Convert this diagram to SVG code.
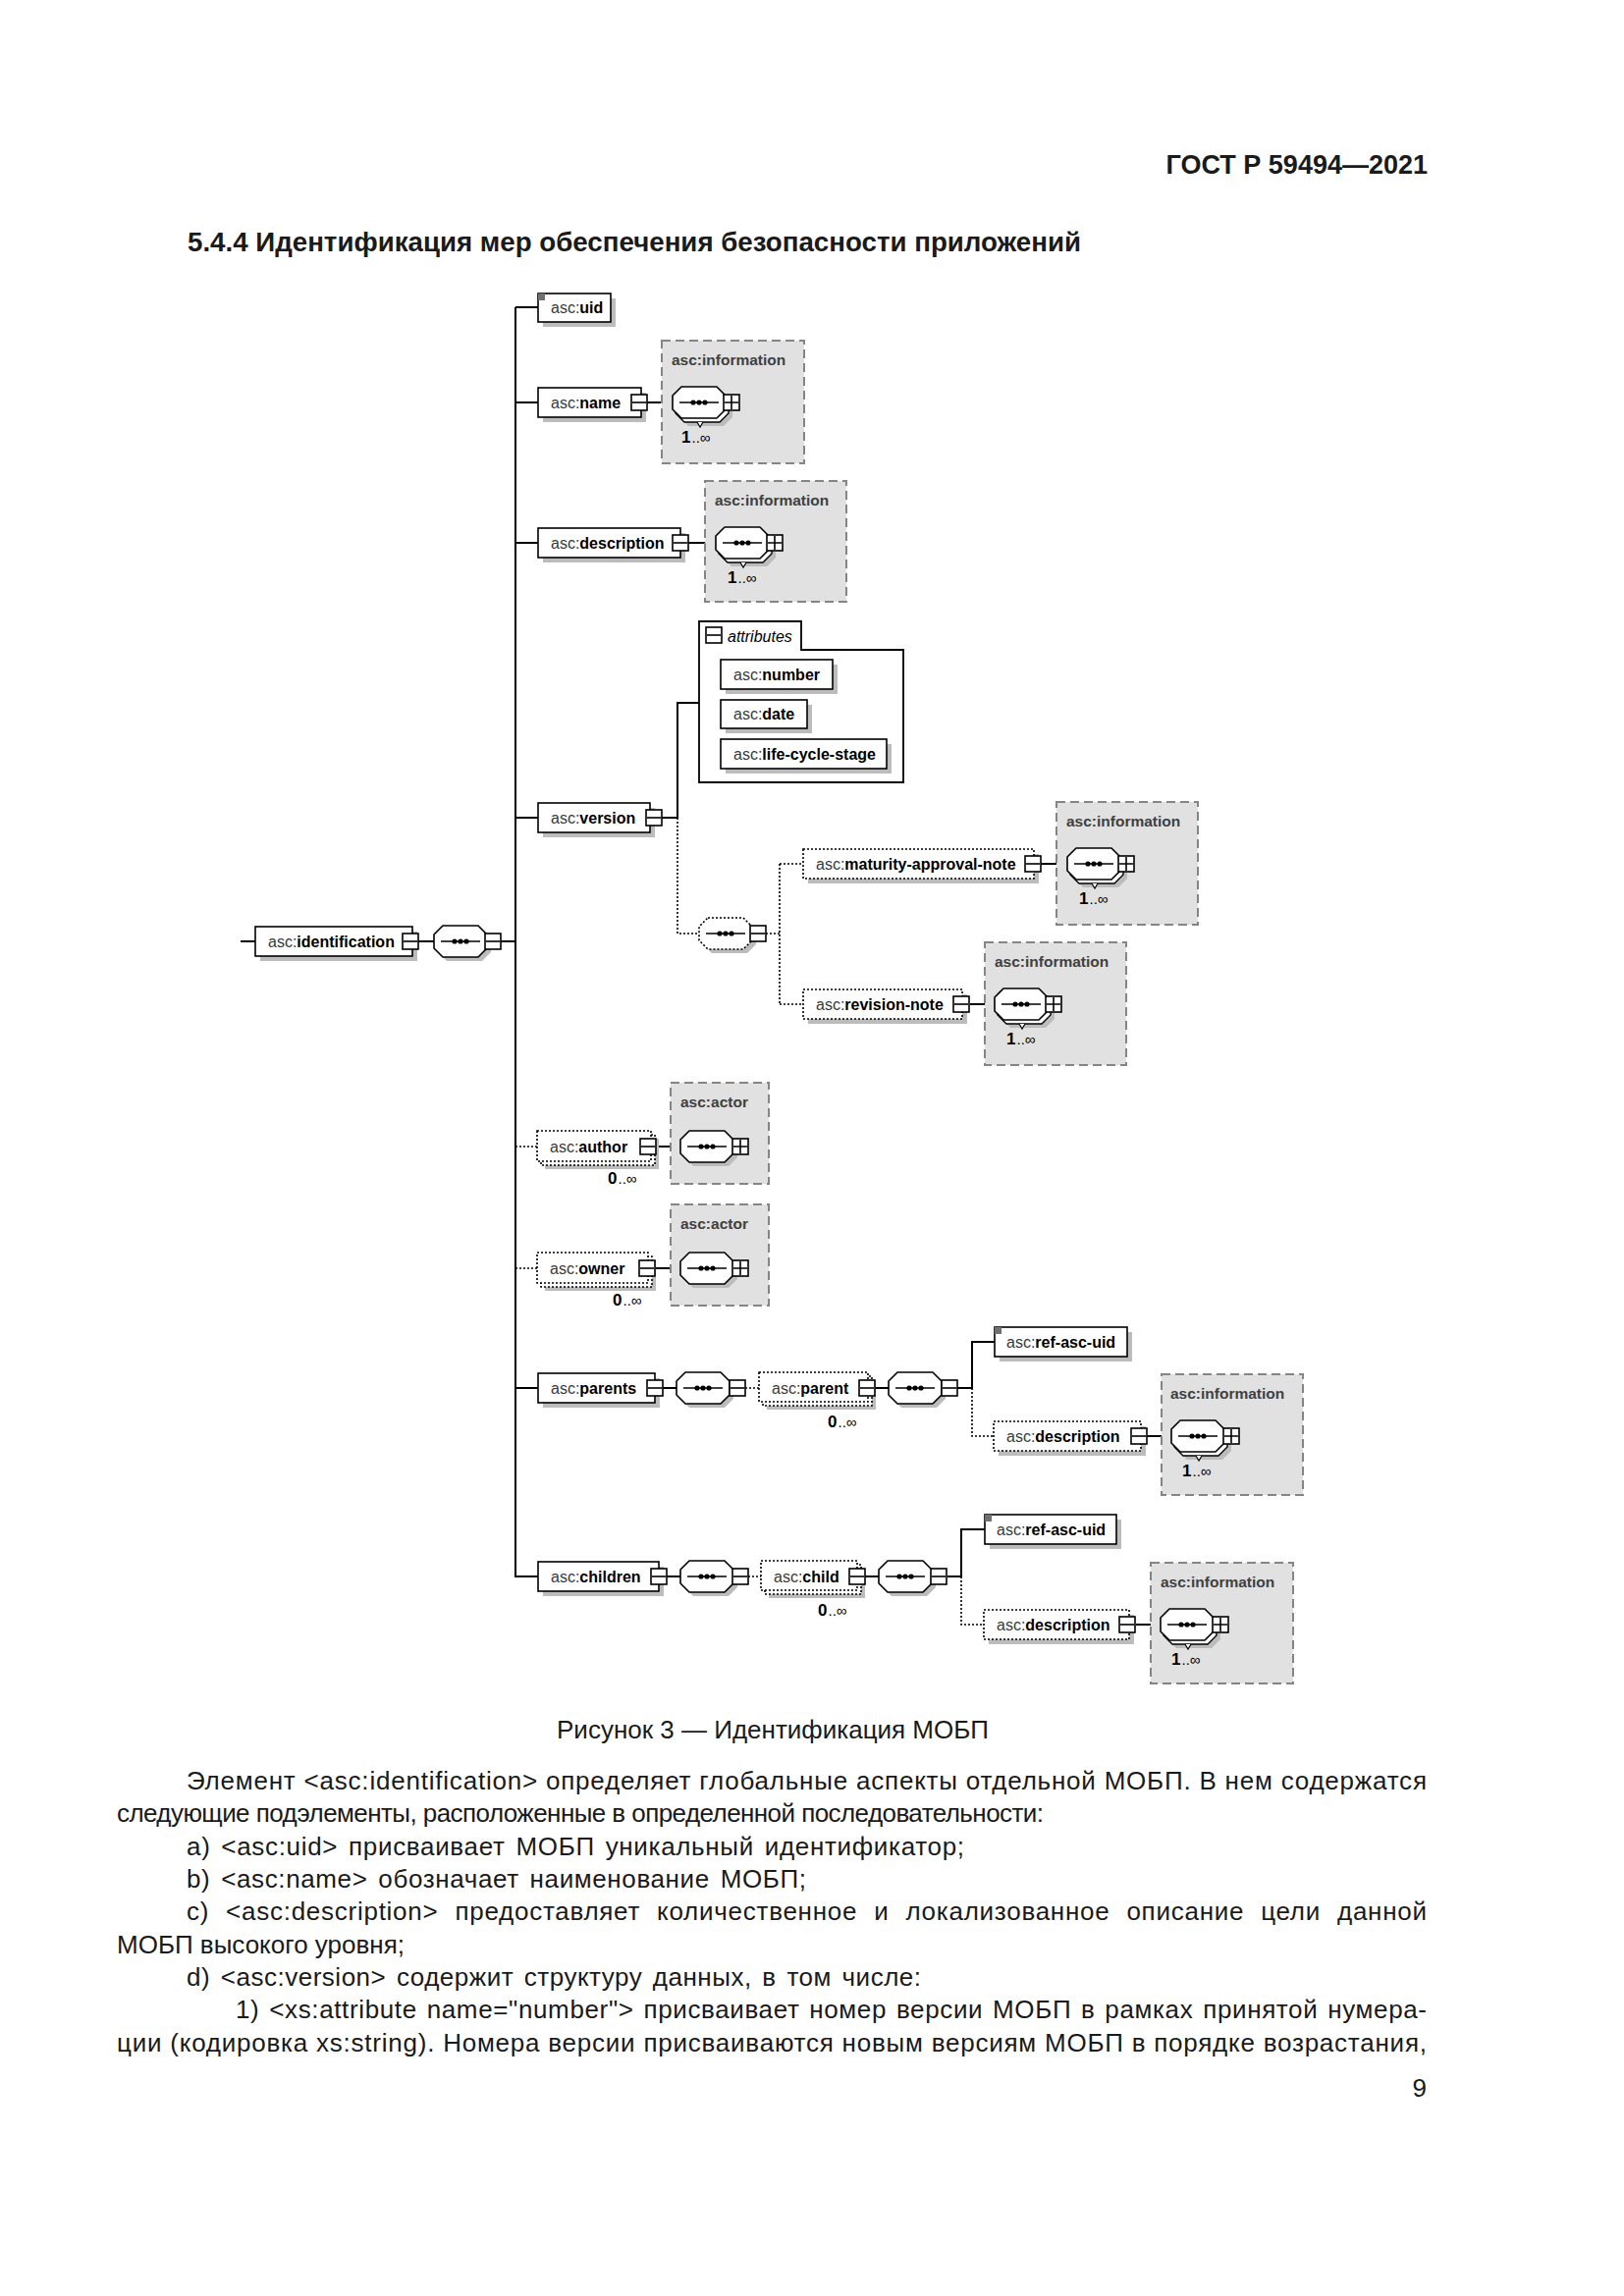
<svg xmlns="http://www.w3.org/2000/svg" xmlns:xlink="http://www.w3.org/1999/xlink" width="1654" height="2339" viewBox="0 0 1654 2339">
<style>
.box{fill:#fff;stroke:#000;stroke-width:1.6}
.opt{fill:#fff;stroke:#000;stroke-width:1.6;stroke-dasharray:2 2}
.sh{fill:#bcbcbc;stroke:none}
.info{fill:#e1e1e1;stroke:#858585;stroke-width:2;stroke-dasharray:9 5}
.ln{stroke:#000;stroke-width:2;fill:none}
.dl{stroke:#000;stroke-width:1.6;fill:none;stroke-dasharray:2 2}
.t{font-family:"Liberation Sans",Arial,sans-serif;font-size:16px;fill:#000}
.ns{fill:#3a3a3a;font-weight:normal}
.b{font-weight:bold;fill:#000}
.il{font-family:"Liberation Sans",Arial,sans-serif;font-size:15.5px;font-weight:bold;fill:#404040}
.m{font-family:"Liberation Sans",Arial,sans-serif;font-size:16px;fill:#000}
.mb{font-weight:bold;font-size:17px}
.md{font-size:15px}
.body{font-family:"Liberation Sans",Arial,sans-serif;font-size:26px;fill:#1a1a1a}
.hd{font-family:"Liberation Sans",Arial,sans-serif;font-size:27px;font-weight:bold;fill:#1a1a1a}
</style>
<defs>
<g id="minus"><rect x="0" y="0" width="16" height="16" fill="#fff" stroke="#000" stroke-width="1.6"/><path d="M1 8H15" stroke="#000" stroke-width="1.6"/></g>
<g id="plus"><rect x="0" y="0" width="16" height="16" fill="#fff" stroke="#000" stroke-width="1.6"/><path d="M1 8H15M8 1V15" stroke="#000" stroke-width="1.6"/></g>
<path id="oct" d="M9 0H45L54 9V23L45 32H9L0 23V9Z"/>
<g id="dots"><path d="M7 16H47" stroke="#000" stroke-width="1.6"/><circle cx="21" cy="16" r="2.6"/><circle cx="27" cy="16" r="2.6"/><circle cx="33" cy="16" r="2.6"/></g>
<g id="seq">
<use xlink:href="#oct" href="#oct" x="4" y="4" class="sh"/>
<use xlink:href="#oct" href="#oct" fill="#fff" stroke="#000" stroke-width="1.6" stroke-linejoin="round"/>
<use xlink:href="#dots" href="#dots"/>
</g>
<g id="seqopt">
<use xlink:href="#oct" href="#oct" x="4" y="4" class="sh"/>
<use xlink:href="#oct" href="#oct" fill="#fff" stroke="#000" stroke-width="1.6" stroke-dasharray="2 2"/>
<use xlink:href="#dots" href="#dots"/>
</g>
<g id="seqm">
<use xlink:href="#oct" href="#oct" x="7" y="8" class="sh"/>
<use xlink:href="#oct" href="#oct" x="3" y="4" fill="#fff" stroke="#000" stroke-width="1.4"/>
<path d="M25 36L28 41L31 36" fill="#fff" stroke="#000" stroke-width="1.2"/>
<use xlink:href="#oct" href="#oct" fill="#fff" stroke="#000" stroke-width="1.6" stroke-linejoin="round"/>
<use xlink:href="#dots" href="#dots"/>
</g>
</defs>
<rect width="1654" height="2339" fill="#fff"/>

<!-- page text -->
<text class="hd" x="1454" y="177" text-anchor="end">ГОСТ Р 59494—2021</text>
<text class="hd" x="191" y="256" textLength="910" lengthAdjust="spacingAndGlyphs">5.4.4 Идентификация мер обеспечения безопасности приложений</text>

<!-- connectors -->
<g id="connectors">
<path class="ln" d="M525 313V1606H548"/>
<path class="ln" d="M525 313H548M525 410H548M525 553H548M525 833H548M525 1414H548"/>
<path class="ln" d="M245 959H260M426 959H442M510 959H525"/>
<path class="ln" d="M659 410H685M701 553H729"/>
<path class="ln" d="M674 833H690V716H712"/>
<path class="ln" d="M1060 880H1087M988 1023H1013"/>
<path class="ln" d="M668 1168H693M667 1292H693"/>
<path class="ln" d="M675 1414H689M892 1414H905M975 1414H990V1367H1013M1168 1463H1193"/>
<path class="ln" d="M679 1606H693M881 1606H895M965 1606H979V1558H1003M1157 1655H1182"/>
<path class="dl" d="M690 833V951H712M780 951H794M794 880V1023M794 880H818M794 1023H818"/>
<path class="dl" d="M525 1168H547M525 1292H547"/>
<path class="dl" d="M759 1414H773M990 1414V1463H1012"/>
<path class="dl" d="M762 1606H775M979 1606V1655H1002"/>
</g>

<!-- identification -->
<g id="n-identification">
<rect class="sh" x="265" y="949" width="160" height="30"/>
<rect class="box" x="260" y="944" width="160" height="30"/>
<text class="t" x="273" y="965"><tspan class="ns">asc:</tspan><tspan class="b">identification</tspan></text>
<use xlink:href="#minus" href="#minus" x="410" y="951"/>
</g>
<g id="c-identification"><use xlink:href="#seq" href="#seq" x="442" y="943"/><use xlink:href="#minus" href="#minus" x="494" y="951"/></g>

<!-- uid -->
<g id="n-uid">
<rect class="sh" x="553" y="304" width="74" height="29"/>
<rect class="box" x="548" y="299" width="74" height="29"/>
<rect x="548" y="299" width="7" height="7" fill="#707070"/>
<text class="t" x="561" y="319"><tspan class="ns">asc:</tspan><tspan class="b">uid</tspan></text>
</g>

<!-- name -->
<g id="n-name">
<rect class="info" x="674" y="347" width="145" height="125"/>
<text class="il" x="684" y="372">asc:information</text>
<rect class="sh" x="553" y="400" width="105" height="30"/>
<rect class="box" x="548" y="395" width="105" height="30"/>
<text class="t" x="561" y="416"><tspan class="ns">asc:</tspan><tspan class="b">name</tspan></text>
<use xlink:href="#minus" href="#minus" x="643" y="402"/>
<use xlink:href="#seqm" href="#seqm" x="685" y="394"/>
<use xlink:href="#plus" href="#plus" x="737" y="402"/>
<text class="m" x="694" y="451"><tspan class="mb">1</tspan><tspan class="md" dx="1">..∞</tspan></text>
</g>

<!-- description -->
<g id="n-description">
<rect class="info" x="718" y="490" width="144" height="123"/>
<text class="il" x="728" y="515">asc:information</text>
<rect class="sh" x="553" y="543" width="145" height="30"/>
<rect class="box" x="548" y="538" width="145" height="30"/>
<text class="t" x="561" y="559"><tspan class="ns">asc:</tspan><tspan class="b">description</tspan></text>
<use xlink:href="#minus" href="#minus" x="685" y="545"/>
<use xlink:href="#seqm" href="#seqm" x="729" y="537"/>
<use xlink:href="#plus" href="#plus" x="781" y="545"/>
<text class="m" x="741" y="594"><tspan class="mb">1</tspan><tspan class="md" dx="1">..∞</tspan></text>
</g>

<!-- version -->
<g id="n-version">
<rect class="sh" x="553" y="823" width="114" height="30"/>
<rect class="box" x="548" y="818" width="114" height="30"/>
<text class="t" x="561" y="839"><tspan class="ns">asc:</tspan><tspan class="b">version</tspan></text>
<use xlink:href="#minus" href="#minus" x="658" y="825"/>
</g>
<g id="n-attributes">
<path d="M712 633H816V662H920V797H712Z" fill="#fff" stroke="#000" stroke-width="1.8"/>
<use xlink:href="#minus" href="#minus" x="719" y="639"/>
<text class="t" x="741" y="654" font-style="italic">attributes</text>
<rect class="sh" x="739" y="677" width="114" height="30"/>
<rect class="box" x="734" y="672" width="114" height="30"/>
<text class="t" x="747" y="693"><tspan class="ns">asc:</tspan><tspan class="b">number</tspan></text>
<rect class="sh" x="739" y="718" width="88" height="29"/>
<rect class="box" x="734" y="713" width="88" height="29"/>
<text class="t" x="747" y="733"><tspan class="ns">asc:</tspan><tspan class="b">date</tspan></text>
<rect class="sh" x="739" y="758" width="169" height="30"/>
<rect class="box" x="734" y="753" width="169" height="30"/>
<text class="t" x="747" y="774"><tspan class="ns">asc:</tspan><tspan class="b">life-cycle-stage</tspan></text>
</g>
<g id="c-version"><use xlink:href="#seqopt" href="#seqopt" x="712" y="935"/><use xlink:href="#minus" href="#minus" x="764" y="943"/></g>

<g id="n-maturity-approval-note">
<rect class="info" x="1076" y="817" width="144" height="125"/>
<text class="il" x="1086" y="842">asc:information</text>
<rect class="sh" x="823" y="870" width="235" height="30"/>
<rect class="opt" x="818" y="865" width="235" height="30"/>
<text class="t" x="831" y="886"><tspan class="ns">asc:</tspan><tspan class="b">maturity-approval-note</tspan></text>
<use xlink:href="#minus" href="#minus" x="1044" y="872"/>
<use xlink:href="#seqm" href="#seqm" x="1087" y="864"/>
<use xlink:href="#plus" href="#plus" x="1139" y="872"/>
<text class="m" x="1099" y="921"><tspan class="mb">1</tspan><tspan class="md" dx="1">..∞</tspan></text>
</g>

<g id="n-revision-note">
<rect class="info" x="1003" y="960" width="144" height="125"/>
<text class="il" x="1013" y="985">asc:information</text>
<rect class="sh" x="823" y="1013" width="162" height="30"/>
<rect class="opt" x="818" y="1008" width="162" height="30"/>
<text class="t" x="831" y="1029"><tspan class="ns">asc:</tspan><tspan class="b">revision-note</tspan></text>
<use xlink:href="#minus" href="#minus" x="971" y="1015"/>
<use xlink:href="#seqm" href="#seqm" x="1013" y="1007"/>
<use xlink:href="#plus" href="#plus" x="1065" y="1015"/>
<text class="m" x="1025" y="1064"><tspan class="mb">1</tspan><tspan class="md" dx="1">..∞</tspan></text>
</g>

<!-- author -->
<g id="n-author">
<rect class="info" x="683" y="1103" width="100" height="103"/>
<text class="il" x="693" y="1128">asc:actor</text>
<rect class="sh" x="555" y="1160" width="116" height="31"/>
<rect class="opt" x="551" y="1156" width="116" height="31"/>
<rect class="opt" x="547" y="1152" width="116" height="31"/>
<text class="t" x="560" y="1174"><tspan class="ns">asc:</tspan><tspan class="b">author</tspan></text>
<use xlink:href="#minus" href="#minus" x="652" y="1160"/>
<use xlink:href="#seq" href="#seq" x="693" y="1152"/>
<use xlink:href="#plus" href="#plus" x="746" y="1160"/>
<text class="m" x="619" y="1206"><tspan class="mb">0</tspan><tspan class="md" dx="1">..∞</tspan></text>
</g>

<!-- owner -->
<g id="n-owner">
<rect class="info" x="683" y="1227" width="100" height="103"/>
<text class="il" x="693" y="1252">asc:actor</text>
<rect class="sh" x="555" y="1284" width="113" height="31"/>
<rect class="opt" x="551" y="1280" width="113" height="31"/>
<rect class="opt" x="547" y="1276" width="113" height="31"/>
<text class="t" x="560" y="1298"><tspan class="ns">asc:</tspan><tspan class="b">owner</tspan></text>
<use xlink:href="#minus" href="#minus" x="651" y="1284"/>
<use xlink:href="#seq" href="#seq" x="693" y="1276"/>
<use xlink:href="#plus" href="#plus" x="746" y="1284"/>
<text class="m" x="624" y="1330"><tspan class="mb">0</tspan><tspan class="md" dx="1">..∞</tspan></text>
</g>

<!-- parents -->
<g id="n-parents">
<rect class="sh" x="553" y="1404" width="119" height="30"/>
<rect class="box" x="548" y="1399" width="119" height="30"/>
<text class="t" x="561" y="1420"><tspan class="ns">asc:</tspan><tspan class="b">parents</tspan></text>
<use xlink:href="#minus" href="#minus" x="659" y="1406"/>
</g>
<g id="c-parents"><use xlink:href="#seq" href="#seq" x="689" y="1398"/><use xlink:href="#minus" href="#minus" x="743" y="1406"/></g>
<g id="n-parent">
<rect class="sh" x="781" y="1406" width="111" height="30"/>
<rect class="opt" x="777" y="1402" width="111" height="30"/>
<rect class="opt" x="773" y="1398" width="111" height="30"/>
<text class="t" x="786" y="1420"><tspan class="ns">asc:</tspan><tspan class="b">parent</tspan></text>
<use xlink:href="#minus" href="#minus" x="875" y="1406"/>
<text class="m" x="843" y="1454"><tspan class="mb">0</tspan><tspan class="md" dx="1">..∞</tspan></text>
</g>
<g id="c-parent"><use xlink:href="#seq" href="#seq" x="905" y="1398"/><use xlink:href="#minus" href="#minus" x="959" y="1406"/></g>
<g id="n-parent-ref-asc-uid">
<rect class="sh" x="1018" y="1357" width="135" height="30"/>
<rect class="box" x="1013" y="1352" width="135" height="30"/>
<rect x="1013" y="1352" width="7" height="7" fill="#707070"/>
<text class="t" x="1025" y="1373"><tspan class="ns">asc:</tspan><tspan class="b">ref-asc-uid</tspan></text>
</g>
<g id="n-parent-description">
<rect class="info" x="1183" y="1400" width="144" height="123"/>
<text class="il" x="1192" y="1425">asc:information</text>
<rect class="sh" x="1017" y="1453" width="150" height="30"/>
<rect class="opt" x="1012" y="1448" width="150" height="30"/>
<text class="t" x="1025" y="1469"><tspan class="ns">asc:</tspan><tspan class="b">description</tspan></text>
<use xlink:href="#minus" href="#minus" x="1152" y="1455"/>
<use xlink:href="#seqm" href="#seqm" x="1193" y="1447"/>
<use xlink:href="#plus" href="#plus" x="1246" y="1455"/>
<text class="m" x="1204" y="1504"><tspan class="mb">1</tspan><tspan class="md" dx="1">..∞</tspan></text>
</g>

<!-- children -->
<g id="n-children">
<rect class="sh" x="553" y="1596" width="123" height="30"/>
<rect class="box" x="548" y="1591" width="123" height="30"/>
<text class="t" x="561" y="1612"><tspan class="ns">asc:</tspan><tspan class="b">children</tspan></text>
<use xlink:href="#minus" href="#minus" x="663" y="1598"/>
</g>
<g id="c-children"><use xlink:href="#seq" href="#seq" x="693" y="1590"/><use xlink:href="#minus" href="#minus" x="746" y="1598"/></g>
<g id="n-child">
<rect class="sh" x="783" y="1598" width="98" height="30"/>
<rect class="opt" x="779" y="1594" width="98" height="30"/>
<rect class="opt" x="775" y="1590" width="98" height="30"/>
<text class="t" x="788" y="1612"><tspan class="ns">asc:</tspan><tspan class="b">child</tspan></text>
<use xlink:href="#minus" href="#minus" x="865" y="1598"/>
<text class="m" x="833" y="1646"><tspan class="mb">0</tspan><tspan class="md" dx="1">..∞</tspan></text>
</g>
<g id="c-child"><use xlink:href="#seq" href="#seq" x="895" y="1590"/><use xlink:href="#minus" href="#minus" x="948" y="1598"/></g>
<g id="n-child-ref-asc-uid">
<rect class="sh" x="1008" y="1548" width="134" height="30"/>
<rect class="box" x="1003" y="1543" width="134" height="30"/>
<rect x="1003" y="1543" width="7" height="7" fill="#707070"/>
<text class="t" x="1015" y="1564"><tspan class="ns">asc:</tspan><tspan class="b">ref-asc-uid</tspan></text>
</g>
<g id="n-child-description">
<rect class="info" x="1172" y="1592" width="145" height="123"/>
<text class="il" x="1182" y="1617">asc:information</text>
<rect class="sh" x="1007" y="1645" width="148" height="30"/>
<rect class="opt" x="1002" y="1640" width="148" height="30"/>
<text class="t" x="1015" y="1661"><tspan class="ns">asc:</tspan><tspan class="b">description</tspan></text>
<use xlink:href="#minus" href="#minus" x="1140" y="1647"/>
<use xlink:href="#seqm" href="#seqm" x="1182" y="1639"/>
<use xlink:href="#plus" href="#plus" x="1235" y="1647"/>
<text class="m" x="1193" y="1696"><tspan class="mb">1</tspan><tspan class="md" dx="1">..∞</tspan></text>
</g>

<!-- caption and body -->
<text class="body" x="787" y="1771" text-anchor="middle" font-size="25.3">Рисунок 3 — Идентификация МОБП</text>
<text class="body" x="190" y="1823" textLength="1263" lengthAdjust="spacing">Элемент &lt;asc:identification&gt; определяет глобальные аспекты отдельной МОБП. В нем содержатся</text>
<text class="body" x="119" y="1856" textLength="944" lengthAdjust="spacing">следующие подэлементы, расположенные в определенной последовательности:</text>
<text class="body" x="190" y="1890" textLength="792" lengthAdjust="spacing" word-spacing="3">a) &lt;asc:uid&gt; присваивает МОБП уникальный идентификатор;</text>
<text class="body" x="190" y="1923" textLength="631" lengthAdjust="spacing" word-spacing="3">b) &lt;asc:name&gt; обозначает наименование МОБП;</text>
<text class="body" x="190" y="1956" textLength="1263" lengthAdjust="spacing" word-spacing="9">c) &lt;asc:description&gt; предоставляет количественное и локализованное описание цели данной</text>
<text class="body" x="119" y="1990">МОБП высокого уровня;</text>
<text class="body" x="190" y="2023" textLength="748" lengthAdjust="spacing" word-spacing="3">d) &lt;asc:version&gt; содержит структуру данных, в том числе:</text>
<text class="body" x="240" y="2056" textLength="1213" lengthAdjust="spacing" word-spacing="2">1) &lt;xs:attribute name="number"&gt; присваивает номер версии МОБП в рамках принятой нумера-</text>
<text class="body" x="119" y="2090" textLength="1334" lengthAdjust="spacing">ции (кодировка xs:string). Номера версии присваиваются новым версиям МОБП в порядке возрастания,</text>
<text class="body" x="1453" y="2136" text-anchor="end">9</text>
</svg>
